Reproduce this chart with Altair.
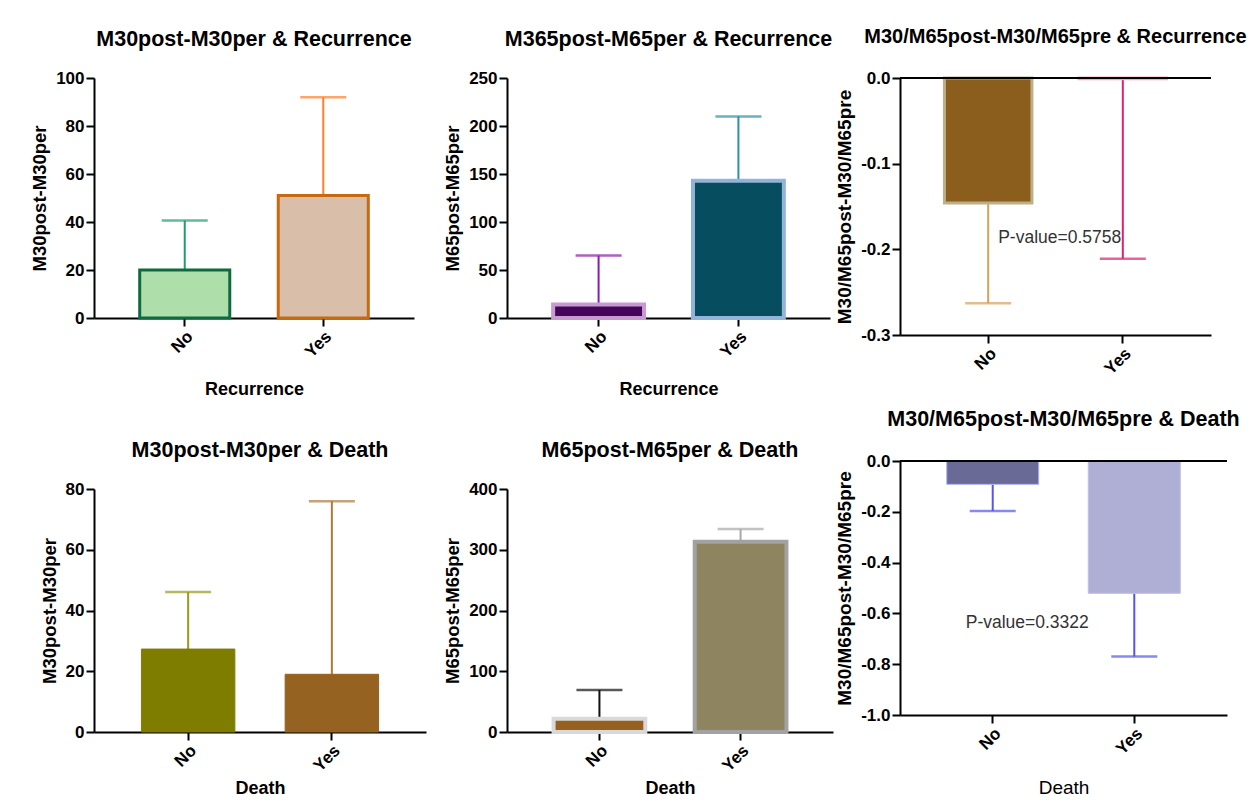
import altair as alt
import pandas as pd

FONT = "Liberation Sans"
cats = ["No", "Yes"]

# ---- Panel data ----
p1_title = "M30post-M30per & Recurrence"
p1_ytitle = "M30post-M30per"
p1_xtitle = "Recurrence"
p1_mean = [20.0, 51.0]
p1_sd = [20.6, 41.0]
p1_fill = ["#aedfab", "#d9bea9"]
p1_stroke = ["#0e6b40", "#c46a12"]
p1_ecolor = ["#1e9e6e", "#ff7f2a"]
p1_ticks = [0, 20, 40, 60, 80, 100]

p2_title = "M365post-M65per & Recurrence"
p2_ytitle = "M65post-M65per"
p2_xtitle = "Recurrence"
p2_mean = [14.0, 143.0]
p2_sd = [51.0, 67.0]
p2_fill = ["#45065a", "#054d5f"]
p2_stroke = ["#c79ad2", "#93b3d8"]
p2_ecolor = ["#8c1ca4", "#2b8fa5"]
p2_ticks = [0, 50, 100, 150, 200, 250]

p3_title = "M30/M65post-M30/M65pre & Recurrence"
p3_ytitle = "M30/M65post-M30/M65pre"
p3_mean = [-0.146, -0.001]
p3_sd = [0.117, 0.21]
p3_fill = ["#8b5e1e", "#f7c0d6"]
p3_stroke = ["#bcb088", "#f3a6c6"]
p3_ecolor = ["#d4a15e", "#e0206e"]
p3_ticks = [0.0, -0.1, -0.2, -0.3]
p3_ptext = "P-value=0.5758"
p3_ptext_y = -0.187

p4_title = "M30post-M30per & Death"
p4_ytitle = "M30post-M30per"
p4_xtitle = "Death"
p4_mean = [27.3, 19.0]
p4_sd = [18.8, 57.0]
p4_fill = ["#7f7d00", "#966221"]
p4_stroke = ["#7f7d00", "#966221"]
p4_ecolor = ["#9a9a1e", "#ad7c3c"]
p4_ticks = [0, 20, 40, 60, 80]

p5_title = "M65post-M65per & Death"
p5_ytitle = "M65post-M65per"
p5_xtitle = "Death"
p5_mean = [22.0, 313.0]
p5_sd = [47.0, 21.0]
p5_fill = ["#97601e", "#8f8460"]
p5_stroke = ["#d9d9d9", "#a2a2a2"]
p5_ecolor = ["#111111", "#a8a8a8"]
p5_ticks = [0, 100, 200, 300, 400]

p6_title = "M30/M65post-M30/M65pre & Death"
p6_ytitle = "M30/M65post-M30/M65pre"
p6_xtitle = "Death"
p6_mean = [-0.092, -0.521]
p6_sd = [0.105, 0.249]
p6_fill = ["#6a6a96", "#afafd6"]
p6_stroke = ["#b4b4f4", "#bdbdf4"]
p6_ecolor = ["#5555ee", "#5555ee"]
p6_ticks = [0.0, -0.2, -0.4, -0.6, -0.8, -1.0]
p6_ptext = "P-value=0.3322"
p6_ptext_y = -0.638


def panel(title, ytitle, xtitle, means, sds, fills, strokes, ecolors, ticks,
          width, height, stroke_w=3, negative=False, title_offset=19,
          title_size=21.5, ytitle_size=18.5, xtitle_weight="bold",
          xtitle_size=18, xtitle_pad=20, ptext=None, ptext_y=None, ptext_dx=7):
    sign = -1 if negative else 1
    df = pd.DataFrame({
        "cat": cats,
        "mean": means,
        "end": [m + sign * s for m, s in zip(means, sds)],
        "fill": fills,
        "stroke": strokes,
        "ecolor": ecolors,
    })
    base = alt.Chart(df)
    x = alt.X("cat:N", sort=cats,
              scale=alt.Scale(paddingInner=0.35, paddingOuter=0.33),
              axis=alt.Axis(title=xtitle, labelAngle=-45,
                            titleFontSize=xtitle_size,
                            titleFontWeight=xtitle_weight,
                            titlePadding=xtitle_pad))
    if negative:
        ydom = [min(ticks), 0]
        yaxis = alt.Axis(values=ticks, title=ytitle, titleFontSize=ytitle_size,
                         titlePadding=6,
                         labelExpr="replace(format(datum.value, '.1f'), '\u2212', '-')")
    else:
        ydom = [0, max(ticks)]
        yaxis = alt.Axis(values=ticks, title=ytitle, titleFontSize=ytitle_size,
                         titlePadding=6)
    yscale = alt.Scale(domain=ydom, nice=False)
    y = alt.Y("mean:Q", scale=yscale, axis=yaxis)

    err = base.mark_rule(strokeWidth=2).encode(
        x=x, y=y, y2="end:Q", color=alt.Color("ecolor:N", scale=None))
    cap = base.mark_tick(size=46, thickness=2.5).encode(
        x=x, y=alt.Y("end:Q", scale=yscale, axis=yaxis),
        color=alt.Color("ecolor:N", scale=None))
    bar = base.mark_bar(strokeWidth=stroke_w).encode(
        x=x, y=y, y2=alt.datum(0),
        fill=alt.Fill("fill:N", scale=None),
        stroke=alt.Stroke("stroke:N", scale=None))
    layers = [err, cap, bar]
    if negative:
        zero = alt.Chart(pd.DataFrame({"z": [0.0]})).mark_rule(
            color="black", strokeWidth=2).encode(y=alt.Y("z:Q", scale=yscale, axis=yaxis))
        layers.append(zero)
    if ptext is not None:
        tdf = pd.DataFrame({"cat": ["No"], "v": [ptext_y], "t": [ptext]})
        txt = alt.Chart(tdf).mark_text(
            align="left", baseline="middle", font=FONT, fontSize=17.5,
            color="#333333", dx=ptext_dx).encode(
            x=x, y=alt.Y("v:Q", scale=yscale, axis=yaxis), text="t:N")
        layers.append(txt)
    return alt.layer(*layers).properties(
        width=width, height=height,
        title=alt.Title(title, offset=title_offset, fontSize=title_size,
                        font=FONT, fontWeight="bold", color="black",
                        frame="group", anchor="middle"))


c1 = panel(p1_title, p1_ytitle, p1_xtitle, p1_mean, p1_sd, p1_fill, p1_stroke,
           p1_ecolor, p1_ticks, 320, 240, stroke_w=3)
c2 = panel(p2_title, p2_ytitle, p2_xtitle, p2_mean, p2_sd, p2_fill, p2_stroke,
           p2_ecolor, p2_ticks, 323, 240, stroke_w=4)
c3 = panel(p3_title, p3_ytitle, None, p3_mean, p3_sd, p3_fill, p3_stroke,
           p3_ecolor, p3_ticks, 311, 257, stroke_w=3, negative=True,
           title_offset=22, title_size=20, ytitle_size=19, ptext=p3_ptext,
           ptext_y=p3_ptext_y, ptext_dx=10)
c4 = panel(p4_title, p4_ytitle, p4_xtitle, p4_mean, p4_sd, p4_fill, p4_stroke,
           p4_ecolor, p4_ticks, 332, 243, stroke_w=1, xtitle_pad=5)
c5 = panel(p5_title, p5_ytitle, p5_xtitle, p5_mean, p5_sd, p5_fill, p5_stroke,
           p5_ecolor, p5_ticks, 326, 243, stroke_w=4, xtitle_pad=5)
c6 = panel(p6_title, p6_ytitle, p6_xtitle, p6_mean, p6_sd, p6_fill, p6_stroke,
           p6_ecolor, p6_ticks, 327, 254, stroke_w=1, negative=True,
           title_offset=22, ytitle_size=19, xtitle_weight="normal",
           xtitle_size=19, xtitle_pad=21, ptext=p6_ptext,
           ptext_y=p6_ptext_y, ptext_dx=-27)

col1 = alt.concat(c1, c4, columns=1, align="none", spacing=40)
col2 = alt.concat(c2, c5, columns=1, align="none", spacing=40)
col3 = alt.concat(c3, c6, columns=1, align="none", spacing=30)

chart = alt.hconcat(alt.hconcat(col1, col2, spacing=17), col3, spacing=2).properties(
    padding={"left": 22, "top": 19, "right": 0, "bottom": 0}
).configure_view(stroke=None).configure_axis(
    domainColor="black", domainWidth=2, tickColor="black", tickWidth=2,
    tickSize=8, labelFont=FONT, labelFontSize=17, labelFontWeight="bold",
    labelColor="black", titleFont=FONT, titleFontWeight="bold",
    titleColor="black", grid=False, labelPadding=2
)

chart.save("out.html", embed_options={"renderer": "svg", "actions": False})
